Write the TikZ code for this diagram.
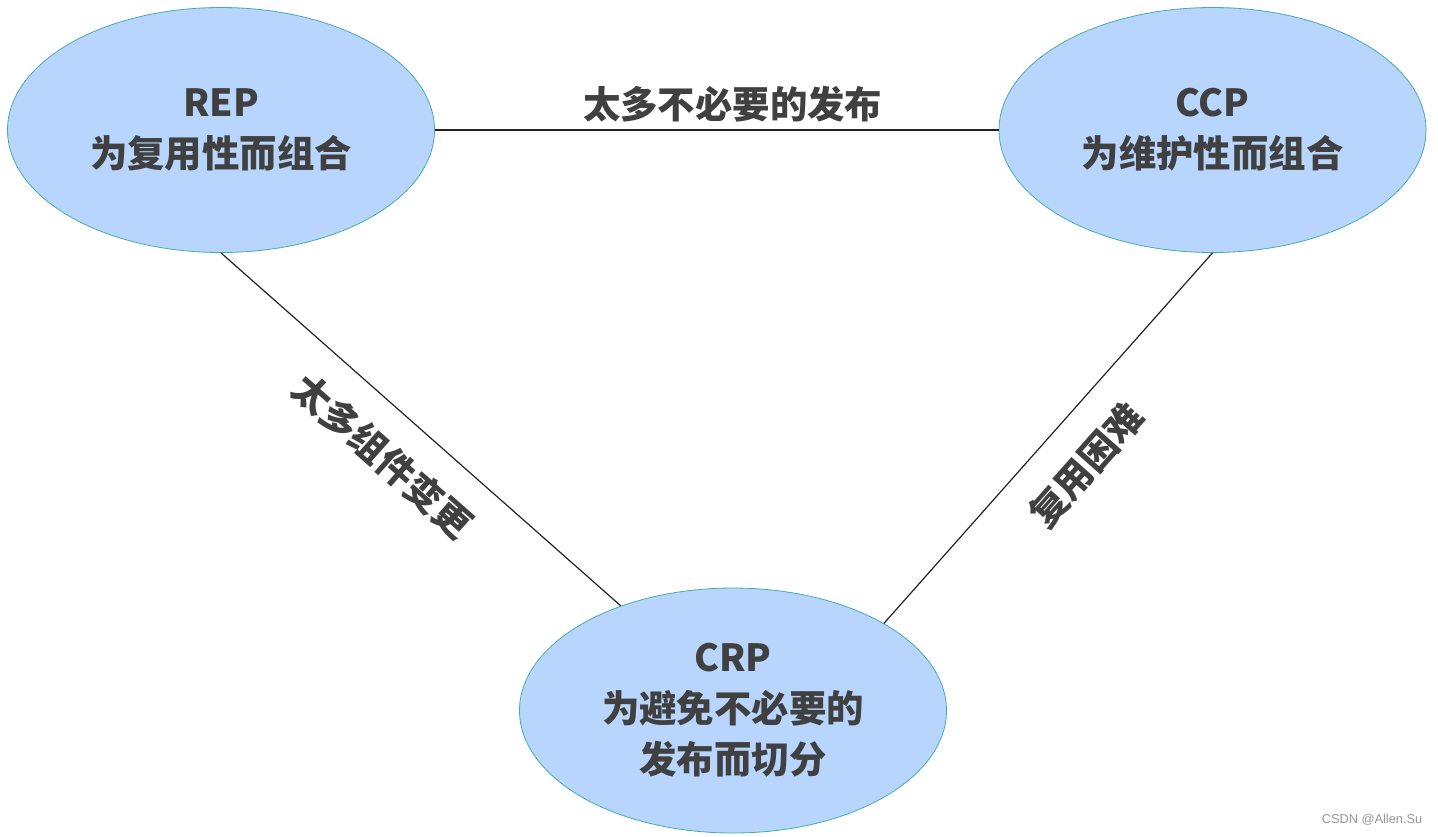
\documentclass[tikz,border=0pt]{standalone}
\usepackage{fontspec}
\usepackage{tikz}
\usetikzlibrary{arrows,positioning,shapes.geometric}
\newfontfamily\cjk{Noto Sans CJK SC}
\newfontfamily\markfont{Liberation Sans}
\definecolor{colfill}{RGB}{183,213,253}
\definecolor{colrim}{RGB}{72,172,168}
\definecolor{coltext}{RGB}{64,64,64}
\definecolor{colline}{RGB}{35,35,35}
\definecolor{colmark}{RGB}{150,150,150}
\tikzstyle{principle}=[ellipse, draw=colrim, line width=0.4pt, fill=colfill, align=center, inner sep=0pt, minimum width=213.5pt, minimum height=122.5pt, text=coltext]
\tikzstyle{conflict}=[text=coltext, inner sep=0pt]
\tikzstyle{rel}=[draw=colline, line width=0.6pt]

\begin{document}
\begin{tikzpicture}[node distance=495.75pt,font=\cjk\bfseries\fontsize{18.7pt}{25.5pt}\selectfont]
    \useasboundingbox (0,0) rectangle (719pt,-418pt);
    \node [principle] (rep) at (110.5pt,-65pt) {REP\\为复用性而组合};
    \node [principle] (ccp) [right of=rep] {CCP\\为维护性而组合};
    \node [principle] (crp) [below of=rep,node distance=290.25pt,xshift=256pt] {CRP\\为避免不必要的\\发布而切分};
    \node [text=colmark,font=\markfont\fontsize{6.4pt}{7pt}\selectfont] (mark) at (686pt,-410pt) {CSDN @Allen.Su};
    \path[rel]
    (rep) edge node [conflict,above=3.6pt,xshift=8pt] {太多不必要的发布} (ccp)
    (rep.south) edge node [conflict,sloped,pos=0.48,below=13pt] {太多组件变更} (crp.137)
    (ccp.south) edge node [conflict,sloped,pos=0.49,below=14pt] {复用困难} (crp.30);
\end{tikzpicture}
\end{document}
